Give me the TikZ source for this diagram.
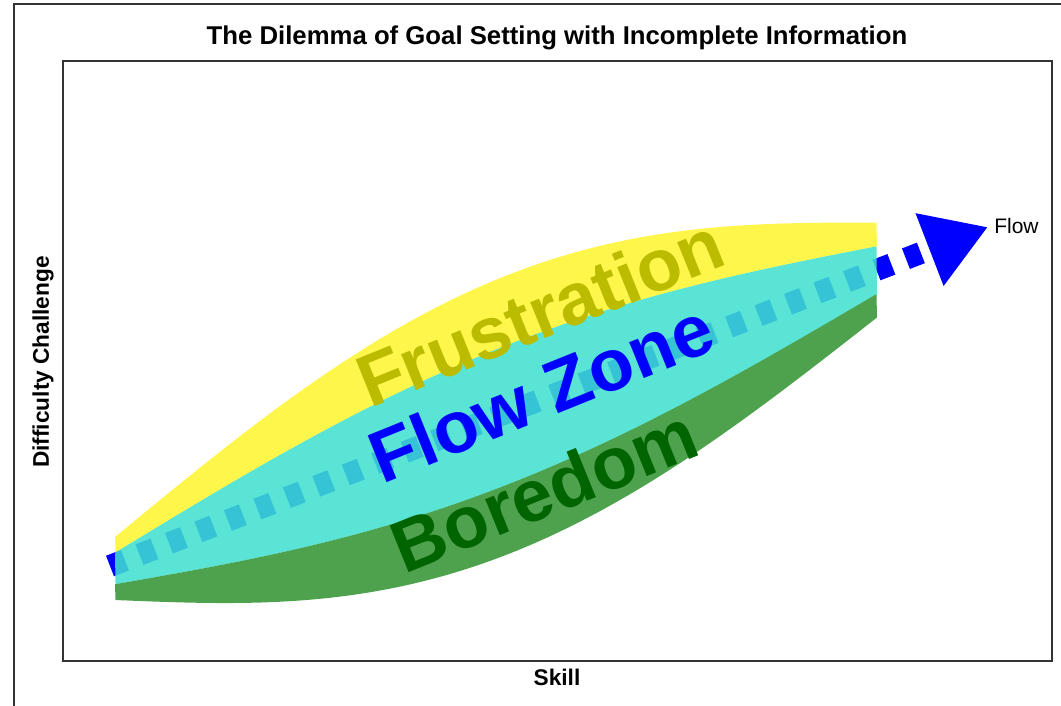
\documentclass[tikz,border=0pt]{standalone}
\usepackage{fontspec}
\setmainfont{Liberation Sans}
\usetikzlibrary{arrows.meta}
\definecolor{turq}{RGB}{64,224,208}
\definecolor{forest}{RGB}{34,139,34}
\definecolor{frustcol}{RGB}{187,187,0}
\definecolor{boredcol}{RGB}{0,100,0}
\tikzset{
  declare function={bx(\u)=115+762*\u; bmid(\u)=568.5-298.5*\u; bhw(\u)=31.5+16*\u+100*sin(180*\u);},
}
\begin{document}
\begin{tikzpicture}[x=0.75pt,y=-0.75pt,
    frame/.style={draw=black!80,line width=1.5pt},
    flowline/.style={draw=blue,line width=16.5pt,dash pattern=on 12pt off 11.7pt,
      -{Triangle[length=47pt,width=55pt]}},
    bigword/.style={font=\fontsize{55}{60}\selectfont\bfseries,rotate=22,inner sep=0pt},
    axislabel/.style={font=\fontsize{17}{20}\selectfont\bfseries}]
  \useasboundingbox (0,0) rectangle (1061,706);
  \draw[frame] (14,706) -- (14,4) -- (1061,4);
  \draw[frame] (63,61) rectangle (1052,661);
  \node[font=\fontsize{19.3}{23}\selectfont\bfseries] (title) at (557,38)
    {The Dilemma of Goal Setting with Incomplete Information};
  \node[axislabel] (xlab) at (557,677) {Skill};
  \node[axislabel,rotate=90] (ylab) at (43,362) {Difficulty Challenge};
  % dashed flow arrow under the bands
  \coordinate (flowstart) at (110,566);
  \coordinate (flowtip) at (988,227);
  \draw[flowline] (flowstart) -- (flowtip);
  \foreach \lo/\hi/\col/\op in {-1/-0.5/yellow/0.7,-0.5/0.5/turq/0.87,0.5/1/forest/0.8}{
    \fill[fill=\col,fill opacity=\op]
      plot[domain=0:1,samples=80] ({bx(\x)},{bmid(\x)+\lo*bhw(\x)})
      -- plot[domain=1:0,samples=80] ({bx(\x)},{bmid(\x)+\hi*bhw(\x)}) -- cycle;
  }
  \node[bigword,text=frustcol] (frust) at (540,312) {Frustration};
  \node[bigword,text=blue] (zone) at (541,392) {Flow Zone};
  \node[bigword,text=boredcol] (bored) at (544,490) {Boredom};
  \node[anchor=west,inner sep=0pt,font=\fontsize{15.75}{18}\selectfont] (flowlabel) at (994,226) {Flow};
\end{tikzpicture}
\end{document}
